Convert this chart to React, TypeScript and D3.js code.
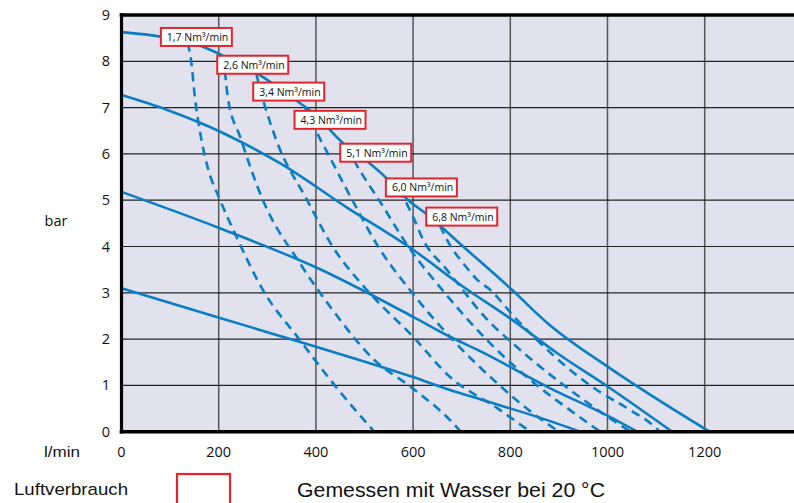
import React from 'react';
import * as d3 from 'd3';

const W = 794;
const H = 503;

const xTicks = [0, 200, 400, 600, 800, 1000, 1200];
const xGrid = [200, 400, 600, 800, 1000, 1200, 1400];
const yTicks = [0, 1, 2, 3, 4, 5, 6, 7, 8, 9];

// Solid pump curves (l/min, bar)
const solidA = [[0, 8.63], [82, 8.53], [164, 8.33], [201, 8.16], [281, 7.73], [349, 7.23], [396, 6.87], [455, 6.24], [507, 5.83], [549, 5.44], [589, 5.01], [630, 4.68], [704, 3.99], [804, 3.06], [876, 2.35], [1001, 1.4], [1210, 0]];
const solidB = [[0, 7.27], [94, 6.95], [182, 6.58], [238, 6.3], [326, 5.8], [464, 4.84], [600, 3.93], [703, 3.13], [806, 2.4], [896, 1.7], [1001, 0.97], [1133, 0]];
const solidC = [[0, 5.18], [201, 4.4], [402, 3.54], [600, 2.48], [676, 2.05], [738, 1.74], [876, 0.97], [1001, 0.34], [1061, 0]];
const solidD = [[0, 3.1], [201, 2.46], [402, 1.83], [600, 1.18], [676, 0.9], [738, 0.7], [876, 0.25], [944, 0]];

// Dashed air consumption curves (l/min, bar)
const air17 = [[136, 8.4], [143, 8.03], [151, 7.23], [162, 6.45], [176, 5.76], [203, 5.0], [233, 4.29], [291, 3.06], [367, 1.98], [435, 1.05], [520, 0]];
const air26 = [[210, 8.11], [213, 7.77], [219, 7.2], [244, 6.37], [291, 5.0], [367, 3.64], [435, 2.62], [517, 1.58], [600, 0.93], [676, 0.25], [698, 0]];
const air34 = [[277, 7.75], [279, 7.66], [316, 6.37], [382, 5.0], [435, 3.99], [505, 3.06], [600, 2.05], [676, 1.18], [773, 0.51], [841, 0]];
const air43 = [[377, 7.02], [400, 6.5], [425, 6.0], [475, 5.0], [528, 4.0], [598, 3.0], [680, 2.0], [778, 1.0], [840, 0.45], [900, 0]];
const air51 = [[465, 6.16], [480, 5.83], [505, 5.4], [530, 5.0], [590, 4.0], [665, 3.0], [750, 2.0], [855, 1.0], [925, 0.45], [985, 0]];
const air60 = [[569, 5.22], [579, 5.07], [600, 4.64], [621, 4.14], [670, 3.49], [697, 3.13], [738, 2.59], [820, 1.77], [902, 1.07], [995, 0.36], [1047, 0]];
const air68 = [[655, 4.45], [680, 3.96], [703, 3.64], [732, 3.28], [759, 3.06], [810, 2.46], [861, 1.92], [919, 1.37], [978, 0.9], [1040, 0.51], [1098, 0.1], [1108, 0]];

const solids = [solidA, solidB, solidC, solidD];
const dashed = [air17, air26, air34, air43, air51, air60, air68];

const airLabels = ['1,7', '2,6', '3,4', '4,3', '5,1', '6,0', '6,8'];
// label box anchors (top-left) in data units
const labelLpm = [81, 197, 271, 356, 450, 544, 627];
const labelBar = [8.72, 8.12, 7.54, 6.93, 6.22, 5.47, 4.84];

const BLUE = '#0a7ec3';
const RED = '#e3262e';

export default function App() {
  const x = d3.scaleLinear().domain([0, 1400]).range([121.5, 801.9]);
  const y = d3.scaleLinear().domain([0, 9]).range([431.7, 15]);
  const line = d3
    .line<number[]>()
    .x((d) => x(d[0]))
    .y((d) => y(d[1]))
    .curve(d3.curveMonotoneX);

  const tickFont = "'Open Sans', 'DejaVu Sans', sans-serif";
  const labFont = "'Liberation Sans', Arial, sans-serif";

  return (
    <svg
      width={W}
      height={H}
      viewBox={`0 0 ${W} ${H}`}
      style={{ position: 'absolute', left: 0, top: 0, background: '#fff' }}
    >
      <defs>
        <clipPath id="plotclip">
          <rect x={x(0)} y={y(9)} width={W - x(0)} height={y(0) - y(9)} />
        </clipPath>
      </defs>
      <rect x={x(0)} y={y(9)} width={W - x(0)} height={y(0) - y(9)} fill="#e2e2ee" />
      {/* grid */}
      {xGrid.map((v) => (
        <line key={'gx' + v} x1={x(v)} x2={x(v)} y1={y(9)} y2={y(0)} stroke="#555" strokeWidth={1.5} />
      ))}
      {yTicks.slice(1, 9).map((v) => (
        <line key={'gy' + v} x1={x(0)} x2={W} y1={y(v)} y2={y(v)} stroke="#222" strokeWidth={1.2} />
      ))}
      {/* curves */}
      <g clipPath="url(#plotclip)" fill="none" stroke={BLUE} strokeWidth={2.6}>
        {dashed.map((d, i) => (
          <path key={'d' + i} d={line(d) || ''} strokeDasharray="9 6" />
        ))}
        {solids.map((d, i) => (
          <path key={'s' + i} d={line(d) || ''} strokeLinecap="round" />
        ))}
      </g>
      {/* borders */}
      <line x1={x(0) - 1.8} x2={W} y1={y(9)} y2={y(9)} stroke="#000" strokeWidth={3.4} />
      <line x1={x(0) - 1.8} x2={W} y1={y(0)} y2={y(0)} stroke="#000" strokeWidth={3.6} />
      <line x1={x(0)} x2={x(0)} y1={y(9) - 1.7} y2={y(0) + 1.8} stroke="#000" strokeWidth={3.2} />
      {/* air labels */}
      {airLabels.map((t, i) => {
        const bx = x(labelLpm[i]);
        const by = y(labelBar[i]);
        return (
          <g key={'lab' + i}>
            <rect x={bx} y={by} width={71} height={18} fill="#fff" stroke={RED} strokeWidth={2} />
            <text x={bx + 6} y={by + 13} fontSize={10.5} fontFamily={tickFont} fill="#111">
              {t + ' Nm³/min'}
            </text>
          </g>
        );
      })}
      {/* y tick labels */}
      {yTicks.map((v) => (
        <text key={'yt' + v} x={110} y={y(v)} dy="0.35em" textAnchor="end" fontSize={14.5} fontFamily={tickFont} fill="#111">
          {v}
        </text>
      ))}
      {/* x tick labels */}
      {xTicks.map((v) => (
        <text key={'xt' + v} x={x(v)} y={452} dy="0.35em" textAnchor="middle" fontSize={14.5} fontFamily={tickFont} fill="#111">
          {v}
        </text>
      ))}
      <text x={62} y={452} dy="0.35em" textAnchor="middle" fontSize={15} fontFamily={labFont} fill="#111" textLength={36} lengthAdjust="spacingAndGlyphs">
        l/min
      </text>
      <text x={56} y={221} dy="0.35em" textAnchor="middle" fontSize={14.5} fontFamily={tickFont} fill="#111">
        bar
      </text>
      <text x={14} y={489} dy="0.35em" fontSize={17} fontFamily={labFont} fill="#111" textLength={114} lengthAdjust="spacingAndGlyphs">
        Luftverbrauch
      </text>
      <rect x={177} y={474} width={53} height={40} fill="none" stroke={RED} strokeWidth={2.2} />
      <text x={297} y={490} dy="0.35em" fontSize={20} fontFamily={labFont} fill="#111" textLength={308} lengthAdjust="spacingAndGlyphs">
        Gemessen mit Wasser bei 20 °C
      </text>
    </svg>
  );
}
